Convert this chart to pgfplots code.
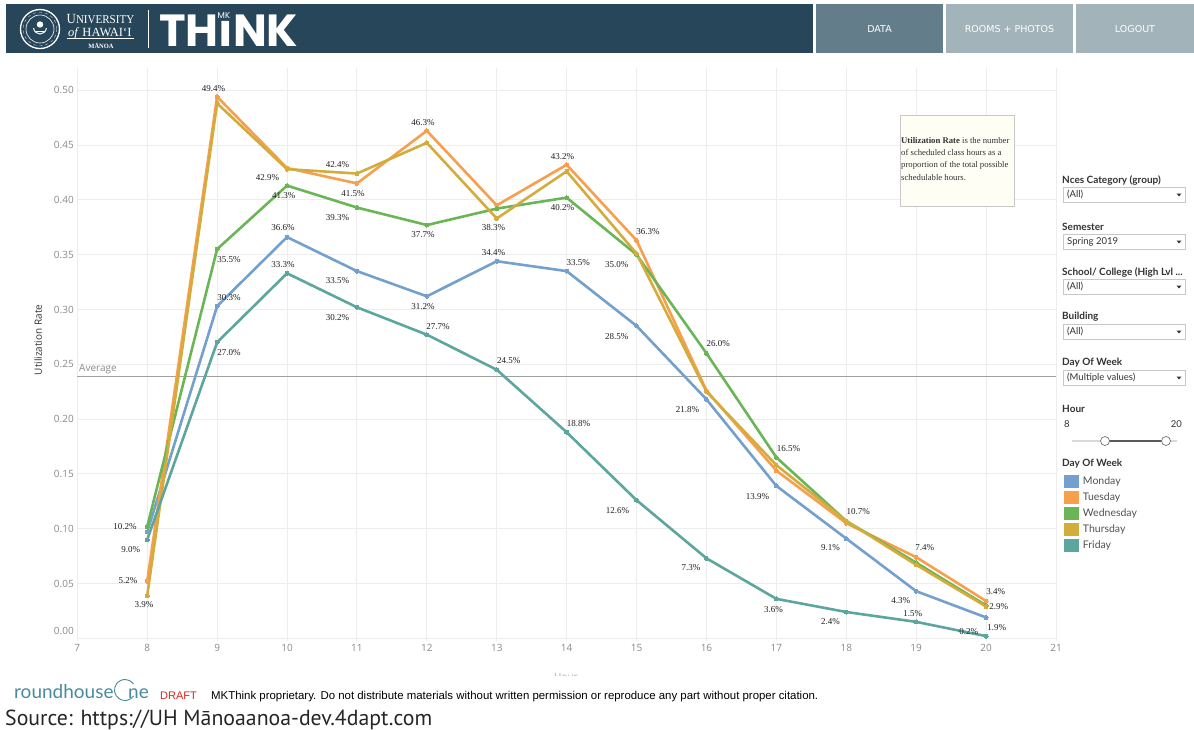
\documentclass[border=0pt]{standalone}
\usepackage{fontspec}
\usepackage{graphicx}
\usepackage{pgfplots}
\pgfplotsset{compat=1.18}
\setmainfont{Liberation Serif}
\newfontfamily\uisans{Open Sans}
\newfontfamily\lato{Lato}
\newfontfamily\dvs{DejaVu Sans}
\newfontfamily\pop{Poppins}
\newfontfamily\ptsans{PT Sans}
\newfontfamily\libsans{Liberation Sans}

\definecolor{hdr}{HTML}{27465A}
\definecolor{btnA}{HTML}{637D8A}
\definecolor{btnB}{HTML}{A2B3BA}
\definecolor{mon}{HTML}{73A0CC}
\definecolor{tue}{HTML}{F89F4E}
\definecolor{wed}{HTML}{6AB656}
\definecolor{thu}{HTML}{D3AC3C}
\definecolor{fri}{HTML}{5DA69E}
\definecolor{gridc}{HTML}{EDEDED}
\definecolor{tickc}{HTML}{8A8A8A}
\definecolor{avgc}{HTML}{A0A0A0}
\definecolor{panel}{HTML}{333333}
\definecolor{boxb}{HTML}{C8C8C8}
\definecolor{rh}{HTML}{4A8BA0}
\definecolor{draftred}{HTML}{E0261F}

\tikzset{lbl/.style={font=\fontsize{9}{10}\selectfont, text=black!88, inner sep=0pt}}
\newcommand{\lab}[3]{\node[lbl] at (axis cs:{7+(#1-77.3)/69.92},{(638.3-#2)/1096.7}) {#3};}
% filter: heading y, heading text, box text
\newcommand{\filt}[3]{%
  \node[anchor=west, inner sep=0, text=panel, font=\lato\bfseries\fontsize{10}{11}\selectfont] at (1062,#1) {#2};
  \draw[draw=boxb, fill=white, line width=0.7pt] (1063.5,#1+7.5) rectangle (1185,#1+22.5);
  \node[anchor=west, inner sep=0, text=panel, font=\lato\fontsize{9.5}{11}\selectfont] at (1067,#1+15) {#3};
  \fill[panel] (1176.5,#1+13.5) -- (1181.5,#1+13.5) -- (1179,#1+16.5) -- cycle;
}

\begin{document}
\begin{tikzpicture}
\path[use as bounding box] (0pt,0pt) rectangle (1194pt,-729pt);
\fill[white] (0pt,0pt) rectangle (1194pt,-729pt);

\begin{axis}[
  at={(77.3pt,-640.5pt)}, anchor=south west,
  scale only axis, width=978.7pt, height=572.2pt,
  xmin=7, xmax=21, ymin=-0.002, ymax=0.52,
  xtick={7,8,9,10,11,12,13,14,15,16,17,18,19,20,21},
  ytick={0.05,0.1,0.15,0.2,0.25,0.3,0.35,0.4,0.45,0.5},
  extra y ticks={0},
  extra y tick style={grid=major, major grid style={draw=gridc, line width=0.9pt}, yticklabel style={/tikz/yshift=7pt}},
  grid=major, major grid style={draw=gridc, line width=0.9pt},
  axis line style={draw=none}, tick style={draw=none},
  /pgf/number format/assume math mode=true,
  ticklabel style={font=\uisans\fontsize{10}{12}\selectfont, text=tickc},
  yticklabel style={/pgf/number format/fixed, /pgf/number format/fixed zerofill, /pgf/number format/precision=2},
  xticklabel style={/pgf/number format/fixed, /pgf/number format/precision=0},
  clip=false,
  legend image code/.code={\fill[#1] (0pt,-5pt) rectangle (12pt,5pt);},
  legend cell align=left,
  legend style={at={(1.0085,0.2892)}, anchor=north west, draw=none, fill=none,
    inner sep=0pt, outer sep=0pt, row sep=3.4pt, column sep=3pt,
    font=\lato\fontsize{10.5}{12}\selectfont, text=panel!85,
    nodes={inner sep=1pt}},
  every axis plot/.append style={line width=2.6pt, mark=*, mark size=2pt, mark options={line width=0pt}},
]
\addplot[forget plot, color=avgc, line width=1.2pt, mark=none] coordinates {(7,0.2385) (21,0.2385)};

\addplot[color=mon] coordinates {(8,0.097)(9,0.303)(10,0.366)(11,0.335)(12,0.312)(13,0.344)(14,0.335)(15,0.285)(16,0.218)(17,0.139)(18,0.091)(19,0.043)(20,0.019)};
\addlegendentry{Monday}
\addplot[color=tue] coordinates {(8,0.052)(9,0.494)(10,0.429)(11,0.415)(12,0.463)(13,0.395)(14,0.432)(15,0.363)(16,0.226)(17,0.153)(18,0.105)(19,0.074)(20,0.034)};
\addlegendentry{Tuesday}
\addplot[color=wed] coordinates {(8,0.102)(9,0.355)(10,0.413)(11,0.393)(12,0.377)(13,0.392)(14,0.402)(15,0.350)(16,0.260)(17,0.165)(18,0.107)(19,0.069)(20,0.030)};
\addlegendentry{Wednesday}
\addplot[color=thu] coordinates {(8,0.039)(9,0.488)(10,0.428)(11,0.424)(12,0.452)(13,0.383)(14,0.426)(15,0.351)(16,0.225)(17,0.158)(18,0.107)(19,0.067)(20,0.029)};
\addlegendentry{Thursday}
\addplot[color=fri] coordinates {(8,0.090)(9,0.270)(10,0.333)(11,0.302)(12,0.277)(13,0.245)(14,0.188)(15,0.126)(16,0.073)(17,0.036)(18,0.024)(19,0.015)(20,0.002)};
\addlegendentry{Friday}

% data labels
\lab{213.5}{88.3}{49.4\%}
\lab{337.5}{164.3}{42.4\%}
\lab{267.5}{177.3}{42.9\%}
\lab{283.7}{195.7}{41.3\%}
\lab{353}{193.7}{41.5\%}
\lab{337.5}{217}{39.3\%}
\lab{283}{227.7}{36.6\%}
\lab{229}{259}{35.5\%}
\lab{283}{264.3}{33.3\%}
\lab{337.5}{280.7}{33.5\%}
\lab{229}{297.3}{30.3\%}
\lab{337.5}{317.3}{30.2\%}
\lab{229}{352.7}{27.0\%}
\lab{423}{122}{46.3\%}
\lab{562.5}{156}{43.2\%}
\lab{562.5}{207.7}{40.2\%}
\lab{423}{234.3}{37.7\%}
\lab{493.5}{227.7}{38.3\%}
\lab{648}{231.3}{36.3\%}
\lab{493.5}{252.7}{34.4\%}
\lab{578.3}{262.3}{33.5\%}
\lab{616.8}{264.7}{35.0\%}
\lab{423}{306}{31.2\%}
\lab{438}{326}{27.7\%}
\lab{616.8}{336.3}{28.5\%}
\lab{508.7}{360.7}{24.5\%}
\lab{578.7}{423.3}{18.8\%}
\lab{617.5}{510}{12.6\%}
\lab{687.5}{409}{21.8\%}
\lab{691}{567.7}{7.3\%}
\lab{718.3}{343.7}{26.0\%}
\lab{788.5}{448}{16.5\%}
\lab{757.5}{496}{13.9\%}
\lab{858.5}{511.7}{10.7\%}
\lab{830.7}{548}{9.1\%}
\lab{925}{548}{7.4\%}
\lab{901}{600.7}{4.3\%}
\lab{773.5}{609.3}{3.6\%}
\lab{830.7}{621.3}{2.4\%}
\lab{913}{613.3}{1.5\%}
\lab{996}{591.7}{3.4\%}
\lab{999}{607}{2.9\%}
\lab{997}{627.7}{1.9\%}
\lab{969}{632}{0.2\%}
\lab{125}{526.7}{10.2\%}
\lab{130.7}{550}{9.0\%}
\lab{128}{581}{5.2\%}
\lab{144}{605}{3.9\%}
\end{axis}

\begin{scope}[x=1pt,y=-1pt]
% header
\fill[hdr] (6,4) rectangle (813,53);
\fill[btnA] (816,4) rectangle (943,53);
\fill[btnB] (946,4) rectangle (1073,53);
\fill[btnB] (1076,4) rectangle (1194,53);
\node[text=white, font=\dvs\fontsize{9.5}{11}\selectfont] at (879.5,29) {DATA};
\node[text=white, font=\dvs\fontsize{9.5}{11}\selectfont] at (1009.5,29) {ROOMS + PHOTOS};
\node[text=white, font=\dvs\fontsize{9.5}{11}\selectfont] at (1135,29) {LOGOUT};
% seal
\draw[white, line width=1.3pt] (40,29) circle (19.5);
\draw[white, line width=0.6pt] (40,29) circle (14);
\draw[white!75!hdr, line width=0.4pt, dashed] (40,29) circle (16.8);
\draw[white, line width=1pt] (33.5,28) .. controls (35,36) and (45,36) .. (46.5,28);
\fill[white] (40,24.5) circle (3.2);
\draw[white, line width=0.7pt] (36,31) -- (44,31);
% university text
\node[anchor=base west, inner sep=0, text=white, font=\fontsize{14}{14}\selectfont] at (66.5,23.5) {\scalebox{0.92}[1]{U\fontsize{12}{12}\selectfont NIVERSITY}};
\node[anchor=base west, inner sep=0, text=white, font=\fontsize{12.5}{12}\selectfont] at (68,36) {\textit{of} HAWAI‘I};
\draw[white, line width=0.6pt] (67,38.6) -- (134,38.6);
\node[anchor=base, inner sep=0, text=white, font=\bfseries\fontsize{6.5}{7}\selectfont] at (101,48.5) {MĀNOA};
\draw[white, line width=0.6pt] (148,10) -- (148,48);
\node[anchor=base west, inner sep=0, text=white, font=\pop\bfseries\fontsize{45}{45}\selectfont] at (159,46.5) {TH\rlap{\hspace{-1pt}\raisebox{28pt}{\fontsize{8.5}{9}\mdseries\selectfont MK}}ıNK};

% tooltip box
\draw[draw=boxb, fill=white!96!yellow] (900,115) rectangle (1014,206);
\node[anchor=north west, inner sep=0, align=left, text=panel, font=\fontsize{8.7}{12.3}\selectfont] at (901,137) {\textbf{Utilization Rate} is the number\\of scheduled class hours as a\\proportion of the total possible\\schedulable hours.};

% axis texts
\node[rotate=90, text=panel, font=\uisans\fontsize{10}{12}\selectfont] at (38,340) {Utilization Rate};
\node[anchor=west, inner sep=0, text=tickc, font=\uisans\fontsize{10}{12}\selectfont] at (79,369.5) {Average};
\begin{scope}
\clip (530,662) rectangle (610,675);
\node[text=tickc!70, font=\uisans\fontsize{10}{12}\selectfont] at (566,677) {Hour};
\end{scope}

% right panel
\filt{180}{Nces Category (group)}{(All)}
\filt{227}{Semester}{Spring 2019}
\filt{272}{School/ College (High Lvl ...}{(All)}
\filt{317}{Building}{(All)}
\filt{363}{Day Of Week}{(Multiple values)}
\node[anchor=west, inner sep=0, text=panel, font=\lato\bfseries\fontsize{10}{11}\selectfont] at (1062,409) {Hour};
\node[anchor=west, inner sep=0, text=panel, font=\lato\fontsize{9.5}{11}\selectfont] at (1064,424) {8};
\node[anchor=east, inner sep=0, text=panel, font=\lato\fontsize{9.5}{11}\selectfont] at (1182,424) {20};
\draw[black!15, line width=2pt] (1072,441) -- (1177,441);
\draw[black!65, line width=2.6pt] (1105,441) -- (1166,441);
\draw[black!55, fill=white, line width=0.7pt] (1105,441) circle (4.5);
\draw[black!55, fill=white, line width=0.7pt] (1166,441) circle (4.5);
\node[anchor=west, inner sep=0, text=panel, font=\lato\bfseries\fontsize{10}{11}\selectfont] at (1062,464) {Day Of Week};

% footer
\node[anchor=base west, inner sep=0, text=rh, font=\lato\fontsize{19}{20}\selectfont] at (14,698) {roundhouse};
\draw[rh, line width=0.9pt] (125,690) ++(35:10.5) arc (35:325:10.5);
\node[anchor=base west, inner sep=0, text=rh, font=\lato\fontsize{19}{20}\selectfont] at (128,698) {ne};
\node[anchor=base west, inner sep=0, text=draftred, font=\libsans\fontsize{11}{12}\selectfont] at (160,699) {DRAFT};
\node[anchor=base west, inner sep=0, text=black, font=\libsans\fontsize{10}{12}\selectfont] at (211,699) {\resizebox{607pt}{!}{MKThink proprietary. Do not distribute materials without written permission or reproduce any part without proper citation.}};
\node[anchor=base west, inner sep=0, text=black!85, font=\ptsans\fontsize{22}{24}\selectfont] at (5,725) {\resizebox{427pt}{!}{Source: https://UH Mānoaanoa-dev.4dapt.com}};
\end{scope}
\end{tikzpicture}
\end{document}
